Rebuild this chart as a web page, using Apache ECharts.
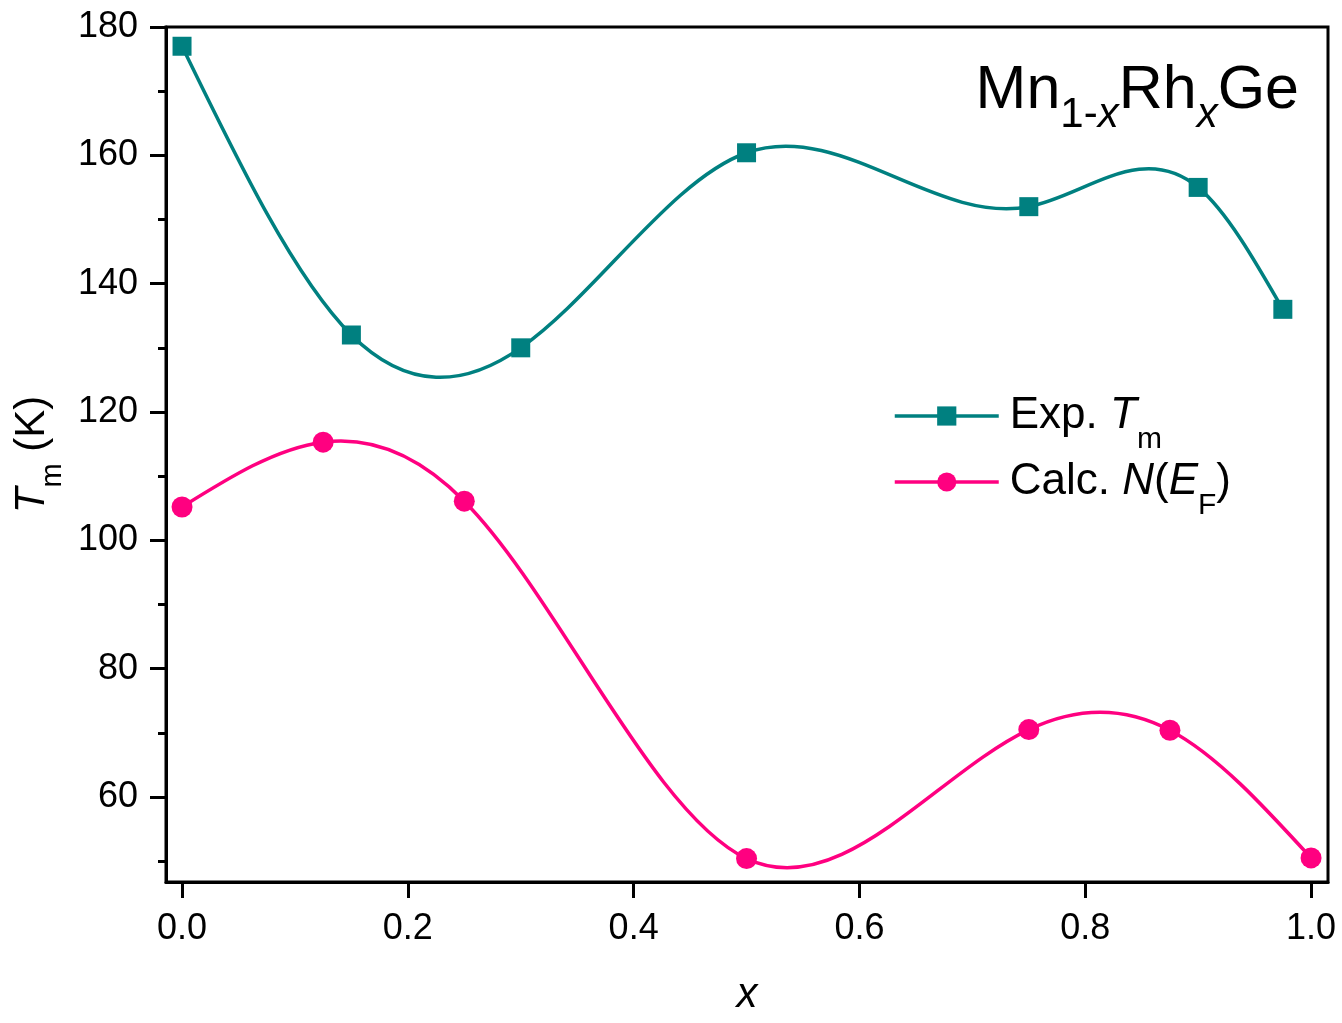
<!DOCTYPE html>
<html>
<head>
<meta charset="utf-8">
<script src="https://cdn.jsdelivr.net/npm/echarts@6/dist/echarts.min.js"></script>
<style>
html, body { margin: 0; padding: 0; background: #fff; }
#main { width: 1342px; height: 1023px; }
</style>
</head>
<body>
<div id="main"></div>
<script>
// data
var expX = [0, 0.15, 0.3, 0.5, 0.75, 0.9, 0.975];
var expY = [177, 132, 130, 160.4, 152, 155, 136];
var calcX = [0, 0.125, 0.25, 0.5, 0.75, 0.875, 1.0];
var calcY = [105.2, 115.3, 106.1, 50.4, 70.5, 70.4, 50.5];
var xTicks = [0, 0.2, 0.4, 0.6, 0.8, 1.0];
var yTicks = [60, 80, 100, 120, 140, 160, 180];
var yMinorTicks = [50, 70, 90, 110, 130, 150, 170];

var teal = '#008080';
var pink = '#ff0080';
var font = 'Liberation Sans';
var lineW = 3.5;

function pairs(xs, ys) {
    return xs.map(function (x, i) { return [x, ys[i]]; });
}

// slopes of a natural cubic spline at each knot (used as bezier handles)
function splineSlopes(xs, ys) {
    var n = xs.length, h = [], M = new Array(n).fill(0);
    for (var i = 0; i < n - 1; i++) h.push(xs[i + 1] - xs[i]);
    var a = [], b = [], c = [], d = [];
    for (var i = 1; i < n - 1; i++) {
        a.push(h[i - 1]);
        b.push(2 * (h[i - 1] + h[i]));
        c.push(h[i]);
        d.push(6 * ((ys[i + 1] - ys[i]) / h[i] - (ys[i] - ys[i - 1]) / h[i - 1]));
    }
    var m = b.length;
    for (var i = 1; i < m; i++) {
        var w = a[i] / b[i - 1];
        b[i] -= w * c[i - 1];
        d[i] -= w * d[i - 1];
    }
    for (var i = m - 1; i >= 0; i--) {
        M[i + 1] = (d[i] - (i < m - 1 ? c[i] * M[i + 2] : 0)) / b[i];
    }
    var s0 = [], s1 = [];
    for (var i = 0; i < n - 1; i++) {
        var k = (ys[i + 1] - ys[i]) / h[i];
        s0.push(k - h[i] * (2 * M[i] + M[i + 1]) / 6);
        s1.push(k + h[i] * (M[i] + 2 * M[i + 1]) / 6);
    }
    return { s0: s0, s1: s1 };
}

function splineSeries(name, xs, ys, color) {
    var sl = splineSlopes(xs, ys);
    return {
        name: name,
        type: 'custom',
        data: pairs(xs, ys),
        encode: { x: 0, y: 1 },
        silent: true,
        z: 2,
        renderItem: function (params, api) {
            var i = params.dataIndex;
            if (i >= xs.length - 1) return null;
            var hh = (xs[i + 1] - xs[i]) / 3;
            var p0 = api.coord([xs[i], ys[i]]);
            var p1 = api.coord([xs[i] + hh, ys[i] + hh * sl.s0[i]]);
            var p2 = api.coord([xs[i + 1] - hh, ys[i + 1] - hh * sl.s1[i]]);
            var p3 = api.coord([xs[i + 1], ys[i + 1]]);
            return {
                type: 'bezierCurve',
                shape: { x1: p0[0], y1: p0[1], cpx1: p1[0], cpy1: p1[1], cpx2: p2[0], cpy2: p2[1], x2: p3[0], y2: p3[1] },
                style: { stroke: color, lineWidth: lineW, fill: null }
            };
        }
    };
}

var myChart = echarts.init(document.getElementById('main'));

var option = {
    backgroundColor: '#fff',
    animation: false,
    textStyle: { fontFamily: font, color: '#000' },
    title: {
        text: '{b|Mn}{s|1-}{si|x}{b|Rh}{si|x}{b|Ge}',
        right: 38,
        top: 56,
        textStyle: {
            rich: {
                b: { fontSize: 61, fontFamily: font, fontWeight: 'normal', color: '#000' },
                s: { fontSize: 42, fontFamily: font, fontWeight: 'normal', color: '#000', verticalAlign: 'bottom', padding: [0, 0, -14, 0] },
                si: { fontSize: 42, fontFamily: font, fontWeight: 'normal', fontStyle: 'italic', color: '#000', verticalAlign: 'bottom', padding: [0, 0, -14, 0] }
            }
        }
    },
    legend: {
        orient: 'vertical',
        left: 893,
        top: 393,
        padding: 0,
        itemWidth: 104,
        itemHeight: 24,
        itemGap: 4,
        data: [
            { name: 'exp', lineStyle: { color: teal, width: lineW, opacity: 1 } },
            { name: 'calc', lineStyle: { color: pink, width: lineW, opacity: 1 } }
        ],
        formatter: function (name) {
            return name === 'exp' ? 'Exp. {i|T}{sub|m}' : 'Calc. {i|N}({i|E}{sub|F})';
        },
        textStyle: {
            fontSize: 44,
            fontFamily: font,
            color: '#000',
            lineHeight: 46,
            padding: [0, 0, 0, 6],
            rich: {
                i: { fontSize: 44, fontFamily: font, fontStyle: 'italic', color: '#000' },
                sub: { fontSize: 30, fontFamily: font, color: '#000', verticalAlign: 'bottom', padding: [0, 0, -16, 0] }
            }
        }
    },
    grid: {
        left: 166,
        right: 14,
        top: 27,
        bottom: 141,
        show: true,
        borderColor: '#000',
        borderWidth: 3
    },
    xAxis: {
        type: 'value',
        min: -0.0142,
        max: 1.015,
        name: 'x',
        nameLocation: 'middle',
        nameGap: 92,
        nameTextStyle: { fontSize: 42, fontStyle: 'italic', fontFamily: font, color: '#000' },
        splitLine: { show: false },
        axisLine: { onZero: false, lineStyle: { color: '#000', width: 3 } },
        axisTick: { customValues: xTicks, length: 16, lineStyle: { color: '#000', width: 3 } },
        axisLabel: {
            customValues: xTicks,
            fontSize: 36,
            color: '#000',
            margin: 29,
            formatter: function (v) { return v.toFixed(1); }
        }
    },
    yAxis: [
        {
            type: 'value',
            position: 'left',
            min: 46.75,
            max: 180,
            name: '{i|T}{sub|m} (K)',
            nameLocation: 'middle',
            nameGap: 108,
            nameTextStyle: {
                fontSize: 42, fontFamily: font, color: '#000',
                rich: {
                    i: { fontSize: 42, fontFamily: font, fontStyle: 'italic', color: '#000' },
                    sub: { fontSize: 29, fontFamily: font, color: '#000', verticalAlign: 'bottom', padding: [0, 0, -14, 0] }
                }
            },
            splitLine: { show: false },
            axisLine: { onZero: false, lineStyle: { color: '#000', width: 3 } },
            axisTick: { customValues: yTicks, length: 16, lineStyle: { color: '#000', width: 3 } },
            axisLabel: { customValues: yTicks, fontSize: 36, color: '#000', margin: 28 }
        },
        {
            // minor ticks only
            type: 'value',
            position: 'left',
            min: 46.75,
            max: 180,
            splitLine: { show: false },
            axisLine: { show: false, onZero: false },
            axisTick: { customValues: yMinorTicks, length: 8, lineStyle: { color: '#000', width: 3 } },
            axisLabel: { show: false }
        }
    ],
    series: [
        splineSeries('exp-curve', expX, expY, teal),
        splineSeries('calc-curve', calcX, calcY, pink),
        {
            name: 'exp',
            type: 'line',
            data: pairs(expX, expY),
            symbol: 'rect',
            symbolSize: 19,
            color: teal,
            lineStyle: { color: teal, width: lineW, opacity: 0 },
            itemStyle: { color: teal },
            z: 3
        },
        {
            name: 'calc',
            type: 'line',
            data: pairs(calcX, calcY),
            symbol: 'circle',
            symbolSize: 21,
            color: pink,
            lineStyle: { color: pink, width: lineW, opacity: 0 },
            itemStyle: { color: pink },
            z: 3
        }
    ]
};

myChart.setOption(option, true);
</script>
</body>
</html>
